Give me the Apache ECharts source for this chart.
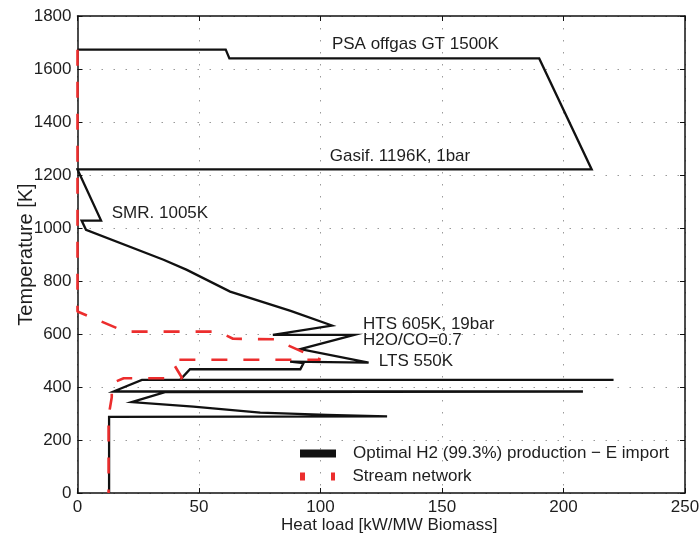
<!DOCTYPE html>
<html><head><meta charset="utf-8">
<script src="https://cdn.jsdelivr.net/npm/echarts@6/dist/echarts.min.js"></script>
<style>html,body{margin:0;padding:0;background:#fff}#c{width:700px;height:538px}</style>
</head><body><div id="c"></div>
<script>
// Composite curve (heat load kW/MW biomass, temperature K)
const compositeQ = [0, 61, 62.5, 190, 211.6, 0, 9.7, 1.7, 3.5, 35.4, 45, 62.8, 87.7, 104.7, 80.4, 113.9, 91.7, 119.8, 87.5, 93, 91.7, 46.3, 42.2, 220.6, 26.5, 14.8, 208, 36, 22.3, 47.7, 75.2, 102.7, 127.4, 13, 13];
const compositeT = [1673, 1673, 1640, 1640, 1221, 1221, 1028, 1028, 993, 880, 842, 760, 687, 632, 597, 597, 543, 492, 496, 490, 467, 467, 427, 427, 427, 383, 383, 381, 343, 326, 303, 295, 289, 287, 0];
// Stream network
const networkQ = [0, 0, 19.6, 58, 64, 81, 100, 38.5, 43.1, 19, 14.1, 14.1, 12.8, 12.8];
const networkT = [1673, 685, 609, 609, 582, 580, 503, 503, 433, 433, 414, 361, 290, 0];
// Axes
const xTicks = [0, 50, 100, 150, 200, 250];
const yTicks = [0, 200, 400, 600, 800, 1000, 1200, 1400, 1600, 1800];
const seriesNames = ['Optimal H2 (99.3%) production \u2212 E import', 'Stream network'];
// Annotations
const annotationText = ['PSA offgas GT 1500K', 'Gasif. 1196K, 1bar', 'SMR. 1005K', 'HTS 605K, 19bar', 'H2O/CO=0.7', 'LTS 550K'];
const annotationQ = [104.7, 103.8, 14.1, 117.5, 117.5, 124];
const annotationT = [1692, 1270, 1056, 638, 575, 496];

const FONT = "'Liberation Sans', Arial, Helvetica, sans-serif";
const TXT = '#1e1e1e';
const zip = (a, b) => a.map((v, i) => [v, b[i]]);
const xStep = xTicks[1] - xTicks[0], yStep = yTicks[1] - yTicks[0];
const gridLine = { show: true, lineStyle: { color: '#9a9a9a', width: 1, type: [1.5, 10.5] } };
const axLine = { show: true, onZero: false, lineStyle: { color: '#111', width: 1.5 } };
const axTick = { show: true, inside: true, length: 5, lineStyle: { color: '#111', width: 1 } };

const chart = echarts.init(document.getElementById('c'), null, { renderer: 'canvas' });
chart.setOption({
  animation: false,
  backgroundColor: '#fff',
  textStyle: { fontFamily: FONT },
  grid: { left: 77.5, right: 15, top: 16, bottom: 45, containLabel: false, outerBoundsMode: 'none' },
  xAxis: [{
    type: 'value', min: xTicks[0], max: xTicks[xTicks.length - 1], interval: xStep, position: 'bottom',
    axisLine: axLine, axisTick: axTick, splitLine: gridLine,
    axisLabel: { color: TXT, fontSize: 17, margin: 6, fontFamily: FONT, formatter: v => String(v) },
    name: 'Heat load [kW/MW Biomass]', nameLocation: 'middle', nameGap: 24, nameMoveOverlap: false,
    nameTextStyle: { color: TXT, fontSize: 17, fontFamily: FONT, padding: [0, 0, 0, 16] }
  }, {
    type: 'value', min: xTicks[0], max: xTicks[xTicks.length - 1], interval: xStep, position: 'top',
    axisLine: axLine, axisTick: axTick, splitLine: { show: false }, axisLabel: { show: false }
  }],
  yAxis: [{
    type: 'value', min: yTicks[0], max: yTicks[yTicks.length - 1], interval: yStep, position: 'left',
    axisLine: axLine, axisTick: axTick, splitLine: gridLine,
    axisLabel: { color: TXT, fontSize: 17, margin: 6, fontFamily: FONT, formatter: v => String(v) },
    name: 'Temperature [K]', nameLocation: 'middle', nameGap: 41, nameMoveOverlap: false,
    nameTextStyle: { color: TXT, fontSize: 20, fontFamily: FONT }
  }, {
    type: 'value', min: yTicks[0], max: yTicks[yTicks.length - 1], interval: yStep, position: 'right',
    axisLine: axLine, axisTick: axTick, splitLine: { show: false }, axisLabel: { show: false }
  }],
  legend: [{
    data: [{ name: seriesNames[0], icon: 'rect' }],
    left: 300, top: 445, padding: 0, itemWidth: 36, itemHeight: 8,
    itemStyle: { borderWidth: 0 },
    textStyle: { color: TXT, fontSize: 17, fontFamily: FONT, padding: [0, 0, 0, 12] }
  }, {
    data: [{ name: seriesNames[1], icon: 'path://M0,0H5V8H0Z M31,0H35V8H31Z' }],
    left: 300, top: 468, padding: 0, itemWidth: 36, itemHeight: 8,
    itemStyle: { borderWidth: 0 },
    textStyle: { color: TXT, fontSize: 17, fontFamily: FONT, padding: [0, 0, 0, 12] }
  }],
  series: [{
    name: seriesNames[0], type: 'line', data: zip(compositeQ, compositeT),
    showSymbol: false, symbol: 'none', clip: false, z: 3,
    itemStyle: { color: '#111' },
    lineStyle: { color: '#111', width: 2.3, join: 'miter' }
  }, {
    name: seriesNames[1], type: 'line', data: zip(networkQ, networkT),
    showSymbol: false, symbol: 'none', clip: false, z: 4,
    itemStyle: { color: '#ec2d2d' },
    lineStyle: { color: '#ec2d2d', width: 2.6, type: [16, 16] }
  }, {
    name: 'annotations', type: 'scatter', symbolSize: 0, silent: true, z: 5,
    itemStyle: { opacity: 1 },
    data: annotationText.map((t, i) => ({ value: [annotationQ[i], annotationT[i]], label: { formatter: t } })),
    label: { show: true, position: 'right', distance: 0, color: TXT, fontSize: 17, fontFamily: FONT, align: 'left', verticalAlign: 'middle' }
  }]
});
</script></body></html>
